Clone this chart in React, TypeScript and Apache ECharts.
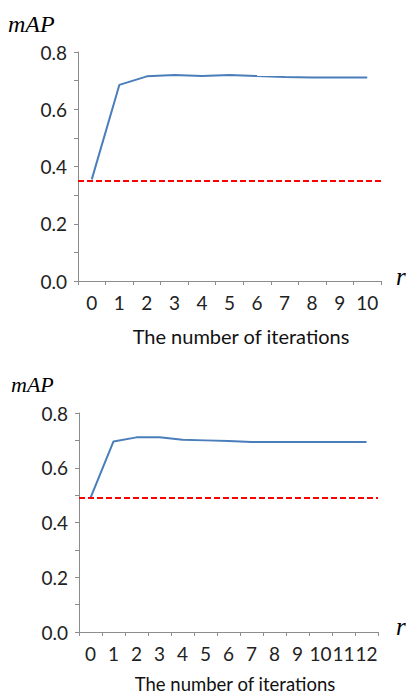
import React, { useEffect, useRef } from "react";
import * as echarts from "echarts";

const topCategories = ["0", "1", "2", "3", "4", "5", "6", "7", "8", "9", "10"];
const topValues = [0.355, 0.685, 0.715, 0.72, 0.716, 0.72, 0.716, 0.713, 0.711, 0.711, 0.711];
const topBaseline = 0.355;

const bottomCategories = ["0", "1", "2", "3", "4", "5", "6", "7", "8", "9", "10", "11", "12"];
const bottomValues = [0.49, 0.696, 0.711, 0.711, 0.702, 0.7, 0.698, 0.694, 0.694, 0.694, 0.694, 0.694, 0.694];
const bottomBaseline = 0.492;

const yTicks = [0, 0.2, 0.4, 0.6, 0.8];

const xTitle = "The number of iterations";
const yTitle = "mAP";
const xUnit = "r";

export default function App() {
  const ref = useRef<HTMLDivElement>(null);
  useEffect(() => {
    if (!ref.current) return;
    const chart = echarts.init(ref.current, null, { renderer: "svg" });
    const sans = "Lato";
    const axisColor = "#8c8c8c";
    const mkY = (gridIndex: number) => ({
      type: "value" as const,
      gridIndex,
      min: 0,
      max: 0.8,
      interval: 0.1,
      axisLine: { show: true, lineStyle: { color: axisColor, width: 1 } },
      axisTick: { show: true, length: 4, lineStyle: { color: axisColor } },
      splitLine: { show: false },
      axisLabel: {
        fontFamily: sans,
        fontSize: 19,
        color: "#222",
        margin: 11,
        formatter: (v: number) => {
          const hit = yTicks.find((t) => Math.abs(t - v) < 1e-6);
          return hit === undefined ? "" : hit.toFixed(1);
        },
      },
    });
    const mkX = (gridIndex: number, data: string[]) => ({
      type: "category" as const,
      gridIndex,
      data,
      boundaryGap: true,
      axisLine: { show: true, lineStyle: { color: axisColor, width: 1 } },
      axisTick: { show: true, length: 4, alignWithLabel: false, interval: 0, lineStyle: { color: axisColor } },
      axisLabel: { fontFamily: sans, fontSize: 19, color: "#222", margin: 12, interval: 0 },
      splitLine: { show: false },
    });
    const mkLine = (xi: number, values: number[], base: number) => ({
      type: "line" as const,
      xAxisIndex: xi,
      yAxisIndex: xi,
      data: values,
      showSymbol: false,
      symbol: "none",
      lineStyle: { color: "#4a7ebb", width: 2 },
      markLine: {
        silent: true,
        symbol: "none",
        label: { show: false },
        lineStyle: { color: "#ff0000", width: 2, type: [6, 3] },
        data: [{ yAxis: base }],
      },
    });
    const serifText = (left: number, top: number, text: string, size: number) => ({
      type: "text" as const,
      left,
      top,
      style: { text, font: `italic ${size}px serif`, fill: "#000" },
    });
    chart.setOption({
      animation: false,
      backgroundColor: "#ffffff",
      grid: [
        { left: 78, top: 52, width: 303, height: 229 },
        { left: 79, top: 413, width: 299, height: 219 },
      ],
      xAxis: [mkX(0, topCategories), mkX(1, bottomCategories)],
      yAxis: [mkY(0), mkY(1)],
      series: [mkLine(0, topValues, topBaseline), mkLine(1, bottomValues, bottomBaseline)],
      graphic: [
        serifText(8, 12, yTitle, 24),
        serifText(11, 373, yTitle, 22),
        serifText(396, 264, xUnit, 25),
        serifText(396, 614, xUnit, 25),
        {
          type: "text",
          x: 241,
          y: 336,
          style: { text: xTitle, fontFamily: sans, fontSize: 20, fill: "#111", align: "center", verticalAlign: "middle" },
        },
        {
          type: "text",
          x: 235,
          y: 684,
          style: { text: xTitle, fontFamily: sans, fontSize: 18.5, fill: "#111", align: "center", verticalAlign: "middle" },
        },
      ],
    });
    return () => chart.dispose();
  }, []);
  return (
    <div
      ref={ref}
      style={{ position: "absolute", left: 0, top: 0, width: 406, height: 694, background: "#fff" }}
    />
  );
}
